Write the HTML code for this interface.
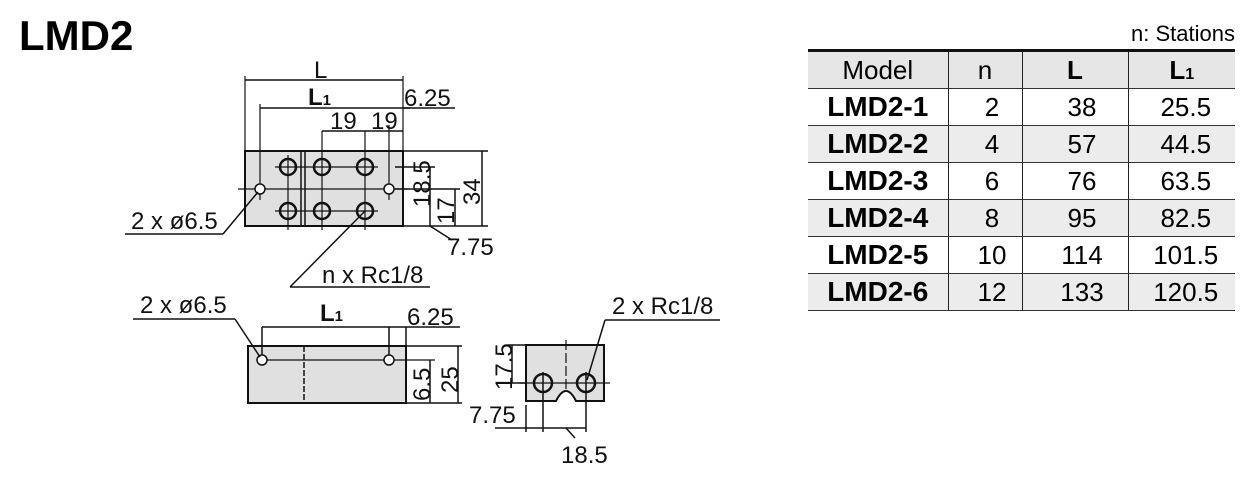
<!DOCTYPE html>
<html><head><meta charset="utf-8"><style>
body{margin:0;background:#fff;width:1257px;height:488px;overflow:hidden;font-family:"Liberation Sans",Arial,sans-serif;position:relative}
.t{position:absolute;left:19px;top:12px;font-size:42px;font-weight:bold}
.st{position:absolute;left:1080px;top:21px;width:155px;text-align:right;font-size:22px}
table{position:absolute;left:808px;top:49px;border-collapse:collapse;font-size:26px}
td{border-left:1px solid #222;height:36px;padding:0;text-align:center;border-bottom:1.5px solid #333}
td:first-child{border-left:none;text-align:center;padding:0;font-weight:bold;font-size:28px}
td:nth-child(2){padding-left:14px}
td:nth-child(3){padding-left:14px}
td:nth-child(4){padding-left:8px}
tr.h td{background:#e6e6e6;font-weight:normal;text-align:center;padding:0;font-size:26px}
tr.h{border-top:3px solid #111}
tr.g td{background:#ececec}
svg{position:absolute;left:0;top:0}
text{font-family:"Liberation Sans",Arial,sans-serif;fill:#111}
</style></head><body>
<div class="t">LMD2</div>
<div class="st">n: Stations</div>
<table>
<colgroup><col style="width:140px"><col style="width:74px"><col style="width:106px"><col style="width:107px"></colgroup>
<tr class="h"><td>Model</td><td>n</td><td style="font-weight:bold">L</td><td style="font-weight:bold">L<span style="font-size:16px">1</span></td></tr>
<tr><td>LMD2-1</td><td>2</td><td>38</td><td>25.5</td></tr>
<tr class="g"><td>LMD2-2</td><td>4</td><td>57</td><td>44.5</td></tr>
<tr><td>LMD2-3</td><td>6</td><td>76</td><td>63.5</td></tr>
<tr class="g"><td>LMD2-4</td><td>8</td><td>95</td><td>82.5</td></tr>
<tr><td>LMD2-5</td><td>10</td><td>114</td><td>101.5</td></tr>
<tr class="g"><td>LMD2-6</td><td>12</td><td>133</td><td>120.5</td></tr>
</table>
<svg width="1257" height="488" stroke="#111" stroke-width="1.5" fill="none">
<rect x="245" y="151" width="158" height="75" fill="#e0e0e0" stroke-width="2"/>
<line x1="301" y1="151" x2="301" y2="226"/><line x1="305" y1="151" x2="305" y2="226"/>
<g stroke-width="1.2">
<line x1="238" y1="189" x2="408" y2="189"/>
<line x1="275" y1="167" x2="378" y2="167"/><line x1="275" y1="211" x2="378" y2="211"/>
<line x1="288" y1="155" x2="288" y2="230"/><line x1="322" y1="131" x2="322" y2="230"/><line x1="365" y1="131" x2="365" y2="230"/>
<line x1="260" y1="104" x2="260" y2="200"/><line x1="389" y1="125" x2="389" y2="200"/>
<line x1="245" y1="76" x2="245" y2="151"/><line x1="403" y1="76" x2="403" y2="151"/>
</g>
<g stroke-width="2.5">
<circle cx="288" cy="167" r="8"/><circle cx="322" cy="167" r="8"/><circle cx="365" cy="167" r="8"/>
<circle cx="288" cy="211" r="8"/><circle cx="322" cy="211" r="8"/><circle cx="365" cy="211" r="8"/>
</g>
<circle cx="260" cy="189" r="5" fill="#fff"/><circle cx="389" cy="189" r="5" fill="#fff"/>
<line x1="245" y1="80" x2="403" y2="80"/>
<line x1="260" y1="108" x2="410" y2="108"/>
<line x1="403" y1="108" x2="455" y2="108"/>
<line x1="322" y1="131" x2="403" y2="131"/>
<line x1="403" y1="151" x2="488" y2="151"/><line x1="403" y1="226" x2="488" y2="226"/>
<line x1="395" y1="167" x2="435" y2="167"/><line x1="395" y1="189" x2="460" y2="189"/>
<line x1="482" y1="151" x2="482" y2="226"/><line x1="430" y1="167" x2="430" y2="226"/><line x1="455" y1="189" x2="455" y2="226"/>
<line x1="430" y1="226" x2="452" y2="240"/>
<line x1="125" y1="234" x2="223" y2="234"/><line x1="223" y1="234" x2="258" y2="192"/>
<line x1="365" y1="211" x2="290" y2="287"/><line x1="290" y1="287" x2="430" y2="287"/>
<g stroke="none" font-size="24">
<text x="314" y="78">L</text>
<text x="308" y="105" font-weight="bold">L<tspan font-size="15">1</tspan></text>
<text x="404" y="106">6.25</text>
<text x="330" y="129">19</text><text x="371" y="129">19</text>
<text transform="translate(430,207) rotate(-90)">18.5</text>
<text transform="translate(454,224) rotate(-90)">17</text>
<text transform="translate(480,205) rotate(-90)">34</text>
<text x="447" y="255">7.75</text>
<text x="131" y="229">2 x ø6.5</text>
<text x="322" y="283">n x Rc1/8</text>
</g>
<rect x="248" y="346" width="158" height="57" fill="#e0e0e0" stroke-width="2"/>
<line x1="304" y1="346" x2="304" y2="403" stroke-dasharray="6 2"/>
<line x1="262" y1="360" x2="435" y2="360" stroke-width="1.2"/>
<circle cx="262" cy="360" r="5" fill="#fff"/><circle cx="389" cy="360" r="5" fill="#fff"/>
<line x1="262" y1="327" x2="262" y2="355"/><line x1="389" y1="327" x2="389" y2="355"/>
<line x1="262" y1="327" x2="460" y2="327"/>
<line x1="406" y1="327" x2="406" y2="346"/>
<line x1="406" y1="346" x2="462" y2="346"/><line x1="406" y1="403" x2="462" y2="403"/>
<line x1="430" y1="360" x2="430" y2="403"/><line x1="458" y1="346" x2="458" y2="403"/>
<line x1="133" y1="319" x2="235" y2="319"/><line x1="235" y1="319" x2="260" y2="357"/>
<g stroke="none" font-size="24">
<text x="140" y="313">2 x ø6.5</text>
<text x="320" y="321" font-weight="bold">L<tspan font-size="15">1</tspan></text>
<text x="407" y="325">6.25</text>
<text transform="translate(430,401) rotate(-90)">6.5</text>
<text transform="translate(458,393) rotate(-90)">25</text>
</g>
<path d="M526 345 H604 V401 H576 Q571 391 566 391 Q561 391 556 401 H526 Z" fill="#e0e0e0" stroke-width="2"/>
<line x1="566" y1="340" x2="566" y2="390" stroke-width="1.2" stroke-dasharray="10 3"/>
<line x1="520" y1="383" x2="610" y2="383" stroke-width="1.2"/>
<g stroke-width="2.5"><circle cx="543" cy="383" r="9"/><circle cx="586" cy="383" r="9"/></g>
<line x1="508" y1="345" x2="526" y2="345"/><line x1="508" y1="383" x2="526" y2="383"/>
<line x1="512" y1="345" x2="512" y2="383"/>
<line x1="526" y1="405" x2="526" y2="432"/><line x1="543" y1="372" x2="543" y2="432"/><line x1="586" y1="372" x2="586" y2="432"/>
<line x1="495" y1="428" x2="586" y2="428"/>
<line x1="566" y1="428" x2="575" y2="438"/>
<line x1="605" y1="320" x2="720" y2="320"/><line x1="605" y1="320" x2="587" y2="380"/>
<g stroke="none" font-size="24">
<text transform="translate(512,390) rotate(-90)">17.5</text>
<text x="469" y="423">7.75</text>
<text x="561" y="463">18.5</text>
<text x="612" y="314">2 x Rc1/8</text>
</g>
</svg>
</body></html>
